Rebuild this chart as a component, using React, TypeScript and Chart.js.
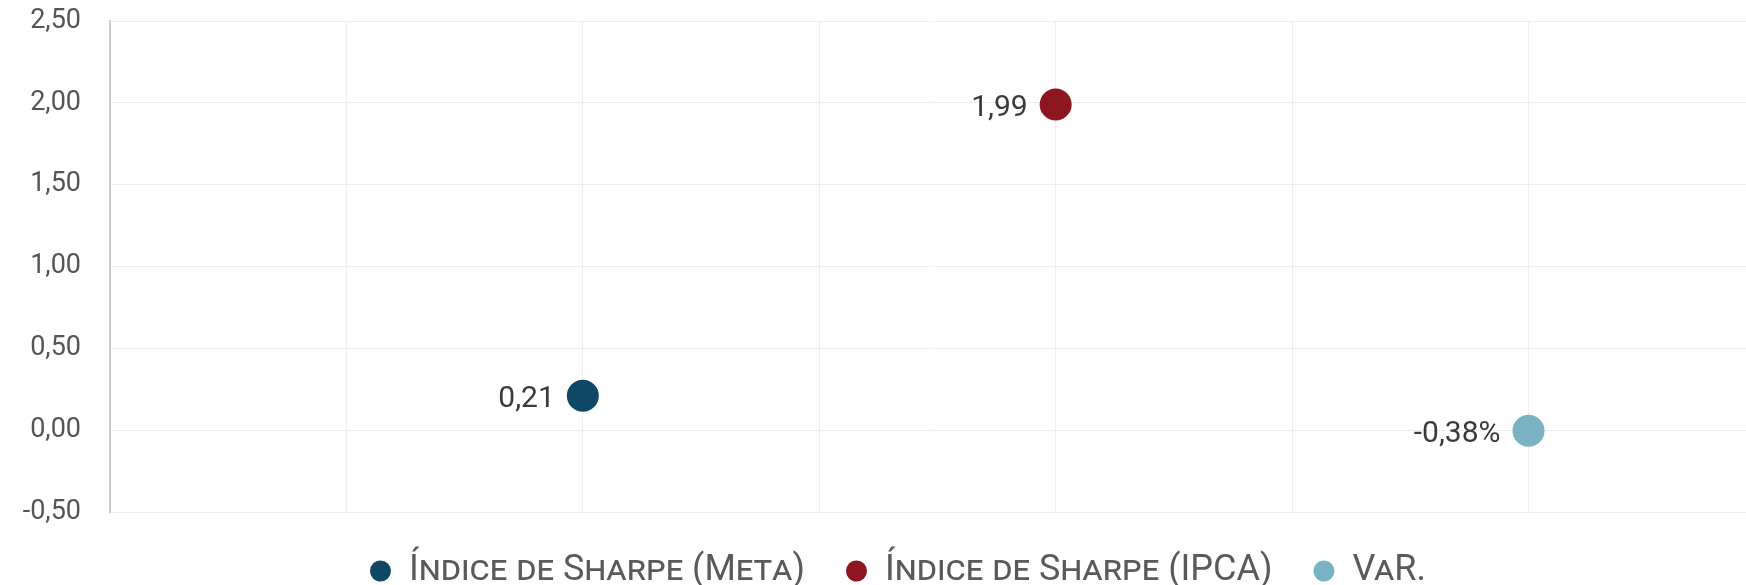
import { useEffect, useRef } from 'react';
import { Chart, registerables } from 'chart.js';

Chart.register(...registerables);

// ---- data ----
const seriesNames = ['Índice de Sharpe (Meta)', 'Índice de Sharpe (IPCA)', 'VaR.'];
const xPositions = [1, 2, 3];
const seriesValues = [0.21, 1.99, -0.0038];
const valueLabels = ['0,21', '1,99', '-0,38%'];
const seriesColors = ['#0f4767', '#8e1620', '#78b2c3'];
const yTickValues = [-0.5, 0, 0.5, 1, 1.5, 2, 2.5];
const yTickLabels = ['-0,50', '0,00', '0,50', '1,00', '1,50', '2,00', '2,50'];
const xMin = 0;
const xMax = 3.46;
const xStep = 0.5;

const FONT = 'Roboto';

const pointLabelPlugin = {
  id: 'pointLabels',
  afterDatasetsDraw(chart: any) {
    const ctx = chart.ctx;
    ctx.save();
    ctx.font = `30px ${FONT}`;
    ctx.fillStyle = '#3a3a3a';
    ctx.textAlign = 'right';
    ctx.textBaseline = 'middle';
    chart.data.datasets.forEach((_ds: any, i: number) => {
      const meta = chart.getDatasetMeta(i);
      if (!chart.isDatasetVisible(i)) return;
      meta.data.forEach((pt: any) => {
        ctx.fillText(valueLabels[i], pt.x - 28, pt.y + 4);
      });
    });
    ctx.restore();
  },
};

export default function App() {
  const canvasRef = useRef<HTMLCanvasElement | null>(null);

  useEffect(() => {
    if (!canvasRef.current) return;
    const chart = new Chart(canvasRef.current, {
      type: 'scatter',
      data: {
        datasets: seriesNames.map((name, i) => ({
          label: name,
          data: [{ x: xPositions[i], y: seriesValues[i] }],
          backgroundColor: seriesColors[i],
          borderColor: seriesColors[i],
          borderWidth: 0,
          pointRadius: 16,
          pointHoverRadius: 16,
          pointStyle: 'circle',
        })),
      },
      options: {
        animation: false,
        responsive: true,
        maintainAspectRatio: false,
        layout: { autoPadding: false, padding: { top: 0, bottom: -14, left: 0, right: -50 } },
        plugins: {
          tooltip: { enabled: false },
          legend: {
            position: 'bottom',
            labels: {
              usePointStyle: true,
              pointStyle: 'circle',
              boxHeight: 15,
              pointStyleWidth: 21,
              padding: 41,
              color: '#5a5a5a',
              font: { size: 36, family: FONT, weight: 'small-caps' as any },
            },
          },
        },
        scales: {
          x: {
            type: 'linear',
            min: xMin,
            max: xMax,
            ticks: { display: false, stepSize: xStep, includeBounds: false },
            grid: { color: '#eeeeee', lineWidth: 1, drawTicks: false },
            border: { display: false },
          },
          y: {
            type: 'linear',
            min: yTickValues[0],
            max: yTickValues[yTickValues.length - 1],
            afterBuildTicks: (scale: any) => {
              scale.ticks = yTickValues.map((v) => ({ value: v }));
            },
            afterFit: (scale: any) => {
              scale.width = 110;
              scale.paddingTop = 21;
              scale.paddingBottom = 0;
            },
            ticks: {
              padding: 29,
              color: '#555555',
              font: { size: 27, family: FONT },
              callback: (_v: any, idx: number) => yTickLabels[idx],
            },
            grid: { color: '#eeeeee', lineWidth: 1, drawTicks: false },
            border: { display: true, color: '#cccccc', width: 2 },
          },
        },
      },
      plugins: [pointLabelPlugin],
    });
    return () => chart.destroy();
  }, []);

  return (
    <div style={{ position: 'absolute', left: 0, top: 0, width: '1746px', height: '585px' }}>
      <canvas ref={canvasRef} />
    </div>
  );
}
